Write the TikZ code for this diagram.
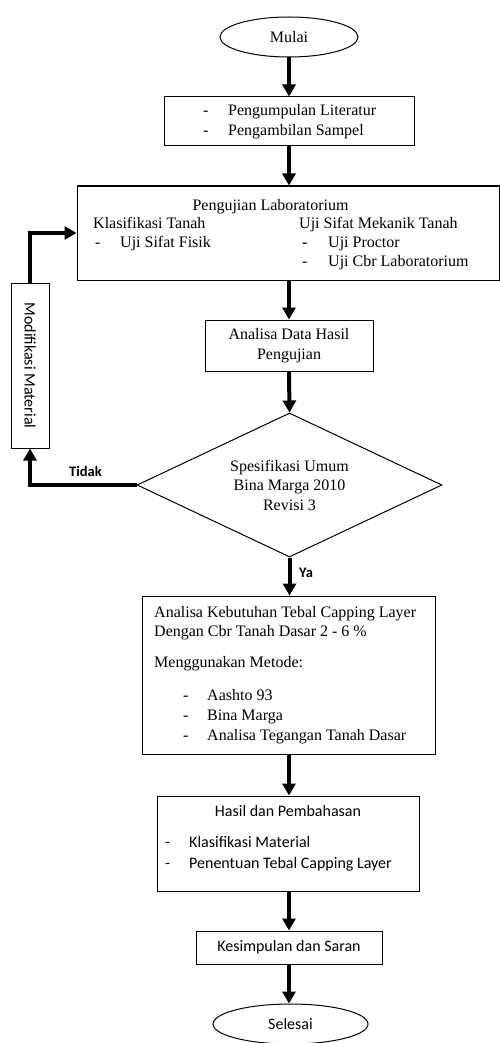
\documentclass[tikz,border=0pt]{standalone}
\usepackage{fontspec}
\setmainfont{Liberation Serif}
\newfontfamily\calfont{Carlito}
\usetikzlibrary{shapes.geometric,arrows.meta}
\newcommand\serf{\fontsize{16}{19.5}\selectfont}
\newcommand\calf{\calfont\fontsize{16}{20}\selectfont}
\newcommand\calb{\calfont\bfseries\fontsize{14.5}{18}\selectfont}
\begin{document}
\begin{tikzpicture}[x=1pt,y=-1pt,
  box/.style={draw=black,line width=1pt,rectangle,inner sep=0pt,align=center,font=\serf},
  term/.style={draw=black,line width=1pt,ellipse,inner sep=0pt},
  txt/.style={anchor=west,inner sep=0pt,font=\serf,text height=11.5pt,text depth=3.5pt},
  ctxt/.style={anchor=west,inner sep=0pt,font=\calf,text height=11.5pt,text depth=3.5pt},
  lbl/.style={anchor=west,inner sep=0pt,font=\calb},
  arr/.style={line width=4pt,line join=miter,-{Triangle[length=12pt,width=13pt]}}]
\useasboundingbox (0,0) rectangle (500,1043);
% nodes
\node[term,minimum width=138pt,minimum height=40pt,font=\serf] (mulai) at (289,37) {Mulai};
\node[box,minimum width=250pt,minimum height=49pt] (b1) at (289,121.5) {};
\node[txt] (b1d1) at (203,112) {-};
\node[txt] (b1t1) at (228,112) {Pengumpulan Literatur};
\node[txt] (b1d2) at (203,132) {-};
\node[txt] (b1t2) at (228,132) {Pengambilan Sampel};

\node[box,minimum width=422pt,minimum height=94pt] (b2) at (288,233) {};
\node[inner sep=0pt,font=\serf,text height=11.5pt,text depth=3.5pt] (b2t) at (270.5,206) {Pengujian Laboratorium};
\node[txt] (b2l) at (93,224) {Klasifikasi Tanah};
\node[txt] (b2ld) at (95,243) {-};
\node[txt] (b2lt) at (120,243) {Uji Sifat Fisik};
\node[txt] (b2r) at (299,224) {Uji Sifat Mekanik Tanah};
\node[txt] (b2rd1) at (302,243) {\textbf{-}};
\node[txt] (b2rt1) at (328,243) {Uji Proctor};
\node[txt] (b2rd2) at (302,262) {-};
\node[txt] (b2rt2) at (328,262) {Uji Cbr Laboratorium};

\node[box,minimum width=168pt,minimum height=51pt] (b3) at (289,345.5) {Analisa Data Hasil\\Pengujian};

\node[draw=black,line width=1pt,diamond,inner sep=0pt,aspect=2.1,minimum width=305pt,minimum height=144pt,align=center,font=\serf] (dia) at (289.5,485) {Spesifikasi Umum\\Bina Marga 2010\\Revisi 3};

\node[box,minimum width=38pt,minimum height=165pt] (modif) at (30,365.5) {};
\node[inner sep=0pt,font=\calf,rotate=-90] (modift) at (30,365.5) {Modifikasi Material};

\node[box,minimum width=293pt,minimum height=158pt] (b4) at (289,675) {};
\node[txt] (b4a) at (154,613) {Analisa Kebutuhan Tebal Capping Layer};
\node[txt] (b4b) at (154,632) {Dengan Cbr Tanah Dasar 2 - 6 \%};
\node[txt] (b4c) at (154,663) {Menggunakan Metode:};
\node[txt] (b4d1) at (183,696) {-};
\node[txt] (b4t1) at (207,696) {Aashto 93};
\node[txt] (b4d2) at (183,716) {-};
\node[txt] (b4t2) at (207,716) {Bina Marga};
\node[txt] (b4d3) at (183,736) {-};
\node[txt] (b4t3) at (207,736) {Analisa Tegangan Tanah Dasar};

\node[box,minimum width=262pt,minimum height=95pt] (b5) at (288,843.5) {};
\node[inner sep=0pt,font=\calf,text height=11.5pt,text depth=3.5pt] (b5t) at (288,812) {Hasil dan Pembahasan};
\node[ctxt] (b5d1) at (165,843) {-};
\node[ctxt] (b5t1) at (189,843) {Klasifikasi Material};
\node[ctxt] (b5d2) at (165,864) {-};
\node[ctxt] (b5t2) at (189,864) {Penentuan Tebal Capping Layer};

\node[box,minimum width=186pt,minimum height=33pt,font=\calf] (b6) at (289,947.5) {Kesimpulan dan Saran};
\node[term,minimum width=155pt,minimum height=40pt,font=\calf] (selesai) at (290.5,1024) {Selesai};

% connectors
\draw[arr] (mulai.south) -- (b1.north);
\draw[arr] (b1.south) -- (b1.south |- b2.north);
\draw[arr] (b3.north |- b2.south) -- (b3.north);
\draw[arr] (b3.south) -- (dia.north);
\draw[arr] (dia.south) -- (dia.south |- b4.north);
\draw[arr] (dia.west) -| (modif.south);
\draw[arr] (modif.north) |- (b2.west);
\draw[arr] (b4.south) -- (b4.south |- b5.north);
\draw[arr] (b6.north |- b5.south) -- (b6.north);
\draw[arr] (b6.south) -- (b6.south |- selesai.north);
% labels
\node[lbl] (tidak) at (69,471) {Tidak};
\node[lbl] (ya) at (299,573) {Ya};
\end{tikzpicture}
\end{document}
